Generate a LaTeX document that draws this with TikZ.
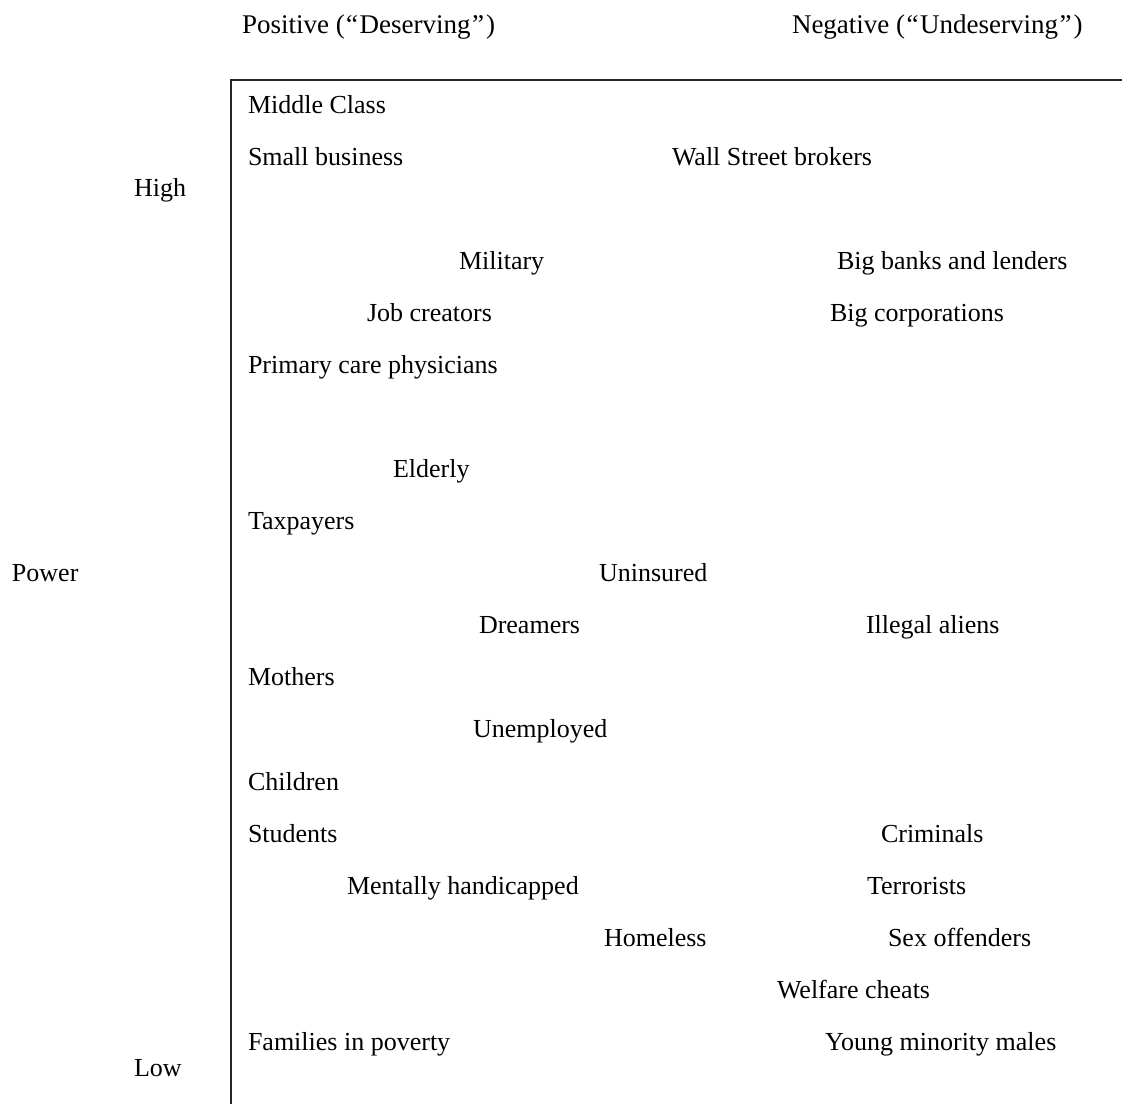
\documentclass[tikz,border=0pt]{standalone}
\usepackage{fontspec}
\setmainfont{Liberation Serif}
\begin{document}
\begin{tikzpicture}[x=1pt,y=-1pt,
  lbl/.style={anchor=base west,inner sep=0pt,outer sep=0pt,font=\fontsize{26}{30}\selectfont},
  hdr/.style={lbl,font=\fontsize{27}{30}\selectfont},
  axis/.style={line width=1.6pt,color=black!85}]
\useasboundingbox (0,0) rectangle (1122,1104);
\def\r#1{113+52.08*#1}
% header
\node[hdr] (pos) at (242,33) {Positive (\kern1.5pt“\kern1.5pt Deserving\kern1.5pt”\kern2pt)};
\node[hdr] (neg) at (792,33) {Negative (\kern1.5pt“\kern1.5pt Undeserving\kern1.5pt”\kern2pt)};
% axis labels
\node[lbl] (high) at (134,196) {High};
\node[lbl] (power) at (12,581) {Power};
\node[lbl] (low) at (134,1076) {Low};
% frame
\coordinate (tl) at (231,80);
\coordinate (tr) at (1122,80);
\coordinate (bl) at (231,1104);
\draw[axis] (tr) -- (tl) -- (bl);
% entries
\node[lbl] (mc) at (248,{\r{0}}) {Middle Class};
\node[lbl] (sb) at (248,{\r{1}}) {Small business};
\node[lbl] (ws) at (672,{\r{1}}) {Wall Street brokers};
\node[lbl] (mil) at (459,{\r{3}}) {Military};
\node[lbl] (bb) at (837,{\r{3}}) {Big banks and lenders};
\node[lbl] (jc) at (367,{\r{4}}) {Job creators};
\node[lbl] (bc) at (830,{\r{4}}) {Big corporations};
\node[lbl] (pcp) at (248,{\r{5}}) {Primary care physicians};
\node[lbl] (eld) at (393,{\r{7}}) {Elderly};
\node[lbl] (tax) at (248,{\r{8}}) {Taxpayers};
\node[lbl] (uni) at (599,{\r{9}}) {Uninsured};
\node[lbl] (dre) at (479,{\r{10}}) {Dreamers};
\node[lbl] (ill) at (866,{\r{10}}) {Illegal aliens};
\node[lbl] (mot) at (248,{\r{11}}) {Mothers};
\node[lbl] (une) at (473,{\r{12}}) {Unemployed};
\node[lbl] (chi) at (248,{\r{13}}) {Children};
\node[lbl] (stu) at (248,{\r{14}}) {Students};
\node[lbl] (cri) at (881,{\r{14}}) {Criminals};
\node[lbl] (men) at (347,{\r{15}}) {Mentally handicapped};
\node[lbl] (ter) at (867,{\r{15}}) {Terrorists};
\node[lbl] (hom) at (604,{\r{16}}) {Homeless};
\node[lbl] (sex) at (888,{\r{16}}) {Sex offenders};
\node[lbl] (wel) at (777,{\r{17}}) {Welfare cheats};
\node[lbl] (fam) at (248,{\r{18}}) {Families in poverty};
\node[lbl] (ymm) at (825,{\r{18}}) {Young minority males};
\end{tikzpicture}
\end{document}
